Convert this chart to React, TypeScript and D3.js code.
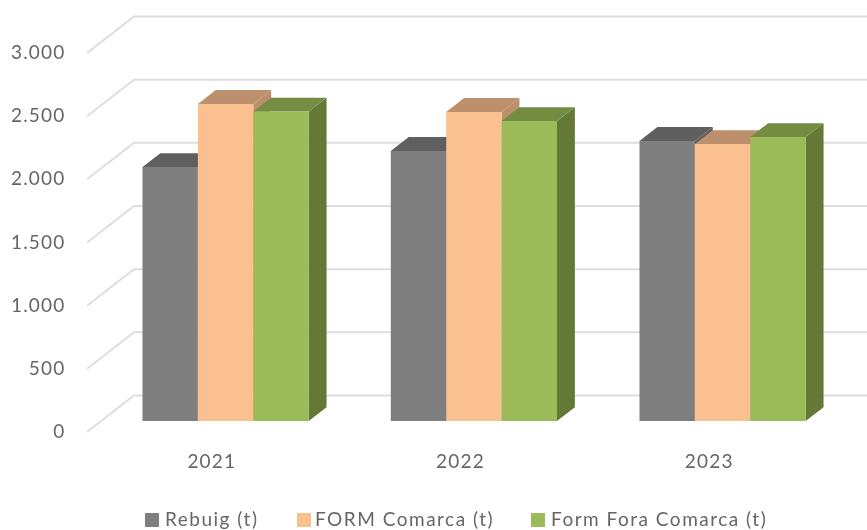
import React from "react";
import * as d3 from "d3";

const years = ["2021", "2022", "2023"];
const seriesNames = ["Rebuig (t)", "FORM Comarca (t)", "Form Fora Comarca (t)"];
const rebuig = [2010, 2138, 2217];
const formComarca = [2510, 2447, 2193];
const formFora = [2450, 2375, 2248];
const yTicks = [0, 500, 1000, 1500, 2000, 2500, 3000];
const tickLabels = ["0", "500", "1.000", "1.500", "2.000", "2.500", "3.000"];
const frontColors = ["#7f7f7f", "#fac090", "#9bbb59"];
const topColors = ["#5f5f5f", "#bc906c", "#748d43"];
const sideColors = ["#5f5f5f", "#bc906c", "#637936"];
const legendSwatchX = [145, 297, 531];
const legendTextX = [165, 315, 551];

const seriesValues = [rebuig, formComarca, formFora];
const FONT = "Lato, 'Open Sans', sans-serif";

// Oblique projection: front-of-floor corner plus depth vector
const depthX = 47;
const depthY = -36.5;
const barZ0 = 0.3;
const barZ1 = 0.68;

const x = d3.scaleBand<string>().domain(years).range([87, 833]).paddingInner(0.334).paddingOuter(0.167);
const yFront = d3.scaleLinear().domain([0, 3000]).range([432, 53]);

const proj = (px: number, v: number, z: number): [number, number] => [px + depthX * z, yFront(v) + depthY * z];

const poly = (pts: [number, number][]) => d3.line()(pts)! + "Z";

export default function App() {
  const bw = 55.4;
  const groupLeft = (i: number) => [128.4, 376.7, 625.4][i];
  return (
    <svg width={867} height={530} style={{ position: "absolute", left: 0, top: 0, background: "#fff" }}>
      <defs>
        <filter id="soft" x="-5%" y="-5%" width="110%" height="110%">
          <feGaussianBlur stdDeviation="0.5" />
        </filter>
      </defs>
      <g filter="url(#soft)">
        {yTicks.map((t) => {
          const a = proj(87, t, 0);
          const b = proj(87, t, 1);
          return (
            <path key={t} d={d3.line()([a, b, [880, b[1]]])!} fill="none" stroke="#dedede" strokeWidth={2} />
          );
        })}
        {years.map((yr, i) =>
          seriesNames.map((s, k) => {
            const v = seriesValues[k][i];
            const l = groupLeft(i) + k * bw;
            const r = l + bw;
            const f0 = proj(l, 0, barZ0);
            const f1 = proj(r, 0, barZ0);
            const t0 = proj(l, v, barZ0);
            const t1 = proj(r, v, barZ0);
            const b0 = proj(l, v, barZ1);
            const b1 = proj(r, v, barZ1);
            const bb = proj(r, 0, barZ1);
            return (
              <g key={yr + s}>
                <path d={poly([t1, b1, bb, f1])} fill={sideColors[k]} />
                <path d={poly([t0, t1, b1, b0])} fill={topColors[k]} />
                <path d={poly([f0, f1, t1, t0])} fill={frontColors[k]} />
              </g>
            );
          })
        )}
        {yTicks.map((t, i) => (
          <text key={t} x={65.5} y={yFront(t) + 6} textAnchor="end" fontFamily={FONT} fontSize={19} letterSpacing={1.2} fill="#666">
            {tickLabels[i]}
          </text>
        ))}
        {years.map((yr, i) => (
          <text key={yr} x={x(yr)! + x.bandwidth() / 2 + 0.5} y={468} textAnchor="middle" fontFamily={FONT} fontSize={19} letterSpacing={1.2} fill="#666">
            {yr}
          </text>
        ))}
        {seriesNames.map((s, k) => (
          <g key={s}>
            <rect x={legendSwatchX[k]} y={513} width={14} height={14} fill={frontColors[k]} />
            <text x={legendTextX[k]} y={525.5} fontFamily={FONT} fontSize={19} letterSpacing={1.5} fill="#666">
              {s}
            </text>
          </g>
        ))}
      </g>
    </svg>
  );
}
